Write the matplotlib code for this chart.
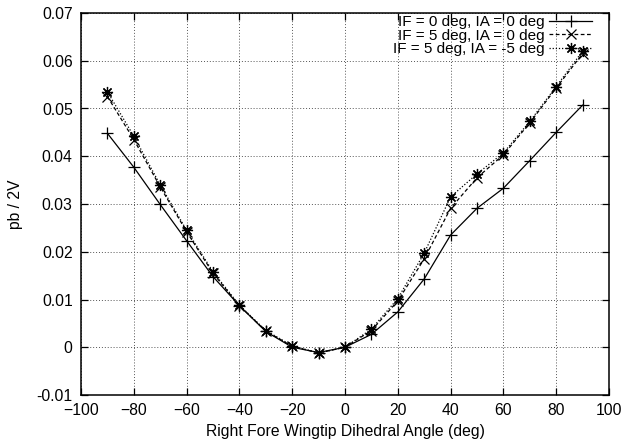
import numpy as np
import matplotlib
matplotlib.use("Agg")
import matplotlib.pyplot as plt

plt.rcParams['font.family'] = ['Liberation Sans', 'DejaVu Sans']

angle = [-90, -80, -70, -60, -50, -40, -30, -20, -10, 0, 10, 20, 30, 40, 50, 60, 70, 80, 90]

# IF = 0, IA = 0
pb_if0 = [0.0448, 0.0377, 0.0299, 0.0223, 0.0148, 0.0087, 0.0033, 0.0000, -0.0011, 0.0,
          0.0027, 0.0074, 0.0143, 0.0235, 0.0291, 0.0333, 0.0391, 0.0450, 0.0507]
# IF = 5, IA = 0
pb_if5 = [0.0525, 0.0435, 0.0336, 0.0242, 0.0155, 0.0087, 0.0034, 0.0002, -0.0012, 0.0,
          0.0035, 0.0097, 0.0185, 0.0291, 0.0355, 0.0403, 0.0470, 0.0543, 0.0615]
# IF = 5, IA = -5
pb_if5_ia5 = [0.0535, 0.0442, 0.0340, 0.0245, 0.0158, 0.0088, 0.0035, 0.0003, -0.0012, 0.0,
              0.0038, 0.0102, 0.0197, 0.0315, 0.0363, 0.0407, 0.0473, 0.0546, 0.0620]

labels = ["IF = 0 deg, IA = 0 deg", "IF = 5 deg, IA = 0 deg", "IF = 5 deg, IA = -5 deg"]

fs = 11.3

fig = plt.figure(figsize=(6.24, 4.44), dpi=100)
ax = fig.add_axes([81/624, 1 - 395/444, (609 - 81)/624, (395 - 13)/444])

ax.plot(angle, pb_if0, color='black', lw=0.9, ls='-', marker='+', ms=8, mew=0.9, label=labels[0])
ax.plot(angle, pb_if5, color='black', lw=0.9, ls=(0, (3, 2)), marker='x', ms=6.5, mew=0.9, label=labels[1])
ax.plot(angle, pb_if5_ia5, color='black', lw=0.9, ls=(0, (1, 1.5)), marker=(8, 2, 0), ms=8, mew=0.9, label=labels[2])

ax.set_xlim(-100, 100)
ax.set_ylim(-0.01, 0.07)
ax.set_xticks(np.arange(-100, 101, 20))
ax.set_yticks(np.arange(-0.01, 0.0701, 0.01))
ax.set_yticklabels(['-0.01', '0', '0.01', '0.02', '0.03', '0.04', '0.05', '0.06', '0.07'])
ax.tick_params(direction='in', top=True, right=True, length=5, width=0.9, labelsize=fs, pad=6)
ax.grid(True, color='#555555', ls=(0, (1, 2)), lw=0.7)
for s in ax.spines.values():
    s.set_linewidth(1.1)

ax.set_xlabel("Right Fore Wingtip Dihedral Angle (deg)", fontsize=fs, labelpad=4)
ax.set_ylabel("pb / 2V", fontsize=fs, labelpad=10)

leg = ax.legend(loc='upper right', markerfirst=False, frameon=False, fontsize=11,
                handlelength=2.8, handletextpad=0.3, labelspacing=-0.02,
                borderpad=0, borderaxespad=0, bbox_to_anchor=(592/624, 1 - 15/444),
                bbox_transform=fig.transFigure)
for col in leg._legend_handle_box.get_children():
    col.align = "right"

fig.savefig("out.png", dpi=100)
